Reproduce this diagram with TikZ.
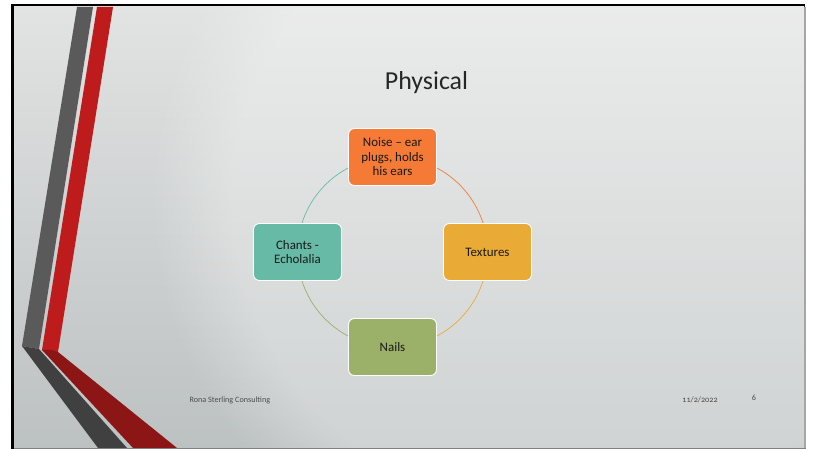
\documentclass[tikz,border=0pt]{standalone}
\usepackage{fontspec}
\setmainfont{Carlito}
\usepackage{tikz}
\usetikzlibrary{calc,fadings}
\definecolor{darktext}{HTML}{1A1A1A}
\definecolor{titletext}{HTML}{262626}
\definecolor{foottext}{HTML}{4D4D4D}
\definecolor{noisecol}{HTML}{F47A36}
\definecolor{texturecol}{HTML}{E9AB36}
\definecolor{nailcol}{HTML}{9BB068}
\definecolor{chantcol}{HTML}{66BAA6}
\definecolor{slidetop}{HTML}{E2E3E3}
\definecolor{slidebottom}{HTML}{BCC1C1}
\definecolor{stripegrey}{HTML}{5A5A5A}
\definecolor{stripered}{HTML}{BE1C1C}
\definecolor{darkgrey}{HTML}{404040}
\definecolor{darkred}{HTML}{8C1616}
\pgfdeclarelayer{backdrop}
\pgfdeclarelayer{links}
\pgfsetlayers{backdrop,links,main}

\begin{document}
\begin{tikzpicture}[x=1bp, y=1bp,
  topic/.style={rectangle, rounded corners=6bp, draw=white, line width=0.9bp,
                minimum width=88bp, minimum height=57bp, inner sep=2bp,
                font=\fontsize{13}{14.5}\selectfont, text=darktext, align=center},
  ring/.style={line width=0.7bp},
  footer/.style={anchor=base, font=\fontsize{8.2}{10}\selectfont, text=foottext},
]
  \useasboundingbox (0,0) rectangle (813,449);

  \begin{pgfonlayer}{backdrop}
    % slide frame and background
    \fill[white] (0,0) rectangle (813,449);
    \fill[black] (11,0) rectangle (805,445);
    \shade[top color=slidetop, bottom color=slidebottom] (14,1) rectangle (804,442);
    \begin{scope}
      \clip (14,1) rectangle (804,442);
      \fill[white, opacity=0.3, path fading=circle with fuzzy edge 20 percent] (150,-150) rectangle (1000,650);
    \end{scope}
    \fill[gray!70] (804,1) rectangle (806,442);
    \fill[gray] (14,0) rectangle (806,1);
    % stripes
    \fill[stripegrey] (77,442) -- (93,442) -- (39,100) -- (22,103) -- cycle;
    \fill[stripered] (97,442) -- (113,442) -- (58,97) -- (42,99) -- cycle;
    \fill[darkgrey] (22,103) -- (39,100) -- (127,1) -- (98,1) -- cycle;
    \fill[darkred] (42,99) .. controls (48,100) and (54,99) .. (58,97) -- (177,1) -- (133,1) -- cycle;
  \end{pgfonlayer}

  \node[anchor=base, font=\fontsize{26}{30}\selectfont, text=titletext] (title) at (426.5,359) {Physical};

  \coordinate (hub) at (392.5,197);
  \node[topic, fill=noisecol] (noise) at ([shift={(90:95)}]hub) {Noise – ear\\plugs, holds\\his ears};
  \node[topic, fill=texturecol] (textures) at ([shift={(0:95)}]hub) {Textures};
  \node[topic, fill=nailcol] (nails) at ([shift={(-90:95)}]hub) {Nails};
  \node[topic, fill=chantcol] (chants) at ([shift={(180:95)}]hub) {Chants -\\Echolalia};

  \begin{pgfonlayer}{links}
    \draw[ring, noisecol] (noise.center) arc[start angle=90, end angle=0, radius=95bp];
    \draw[ring, texturecol] (textures.center) arc[start angle=0, end angle=-90, radius=95bp];
    \draw[ring, nailcol] (nails.center) arc[start angle=-90, end angle=-180, radius=95bp];
    \draw[ring, chantcol] (chants.center) arc[start angle=180, end angle=90, radius=95bp];
  \end{pgfonlayer}

  \node[footer, anchor=base west] (org) at (186,46) {Rona Sterling Consulting};
  \node[footer] (date) at (700,46) {\addfontfeatures{Numbers=OldStyle}11/2/2022};
  \node[footer] (page) at (754,48) {6};
\end{tikzpicture}
\end{document}
